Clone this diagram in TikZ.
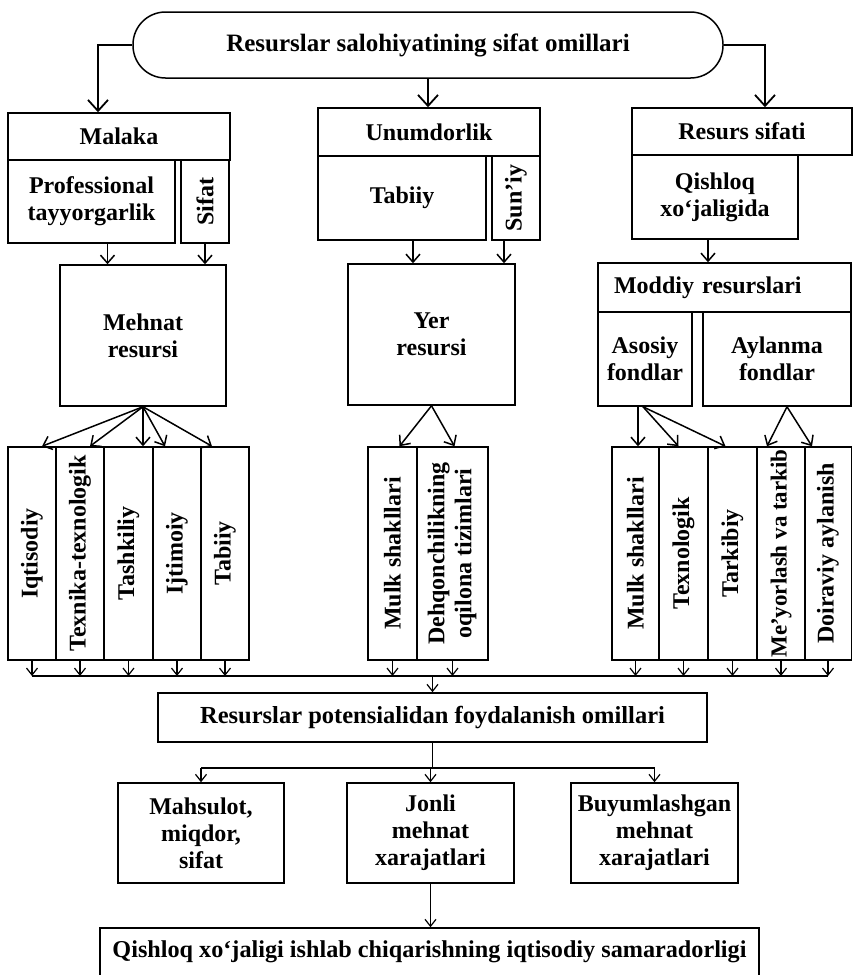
\documentclass[tikz,border=0pt]{standalone}
\usepackage{fontspec}
\setmainfont{Liberation Serif}
\usepackage{graphicx}
\usetikzlibrary{arrows.meta}

\newcommand{\vlabel}[1]{\rotatebox{90}{#1}}

\tikzset{
  every node/.style = {font = \bfseries\fontsize{24}{27}\selectfont},
  box/.style = {draw, line width = 1.5pt, inner sep = 0pt, align = center},
  bigarr/.style = {line width = 1.8pt, -{Straight Barb[length = 11pt, width = 20pt]}},
  midarr/.style = {line width = 1.5pt, -{Straight Barb[length = 8pt, width = 14pt]}},
  smallarr/.style = {line width = 1.2pt, -{Straight Barb[length = 7pt, width = 11pt]}}
}

\begin{document}
\begin{tikzpicture}[x = 1pt, y = -1pt]
\useasboundingbox (0, 0) rectangle (853, 975);

% top
\node[box, rounded corners = 32.5, minimum width = 590, minimum height = 66, font = \bfseries\fontsize{25}{27}\selectfont] (salohiyat) at (428, 45) {Resurslar salohiyatining sifat omillari};

% left column
\node[box, minimum width = 222, minimum height = 47] (malaka) at (119, 136.5) {Malaka};
\node[box, minimum width = 167, minimum height = 83] (prof) at (91.5, 201.5) {Professional\\tayyorgarlik};
\node[box, minimum width = 48, minimum height = 83] (sifat) at (205, 201.5) {\vlabel{Sifat}};
\node[box, minimum width = 166, minimum height = 141] (mehnat) at (143, 335.5) {Mehnat\\resursi};

% middle column
\node[box, minimum width = 222, minimum height = 48] (unum) at (429, 132) {Unumdorlik};
\node[box, minimum width = 168, minimum height = 84] (tabiiy) at (402, 198) {Tabiiy};
\node[box, minimum width = 48, minimum height = 84] (suniy) at (516, 198) {\vlabel{Sun’iy}};
\node[box, minimum width = 167, minimum height = 141] (yer) at (431.5, 334.5) {Yer\\resursi};

% right column
\node[box, minimum width = 220, minimum height = 47] (resurs) at (742, 131.5) {Resurs sifati};
\node[box, minimum width = 166, minimum height = 84] (qishloq) at (715, 197) {Qishloq\\xo‘jaligida};
\node[box, minimum width = 253, minimum height = 49, text width = 221, inner xsep = 16pt, align = left] (moddiy) at (724.5, 287.5) {Moddiy resurslari};
\node[box, minimum width = 94, minimum height = 94] (asosiy) at (645, 359) {Asosiy\\fondlar};
\node[box, minimum width = 148, minimum height = 94] (aylanma) at (777, 359) {Aylanma\\fondlar};

% vertical boxes
\node[box, minimum width = 48, minimum height = 213] (iqt) at (32, 553.5) {\vlabel{Iqtisodiy}};
\node[box, minimum width = 48, minimum height = 213] (texn) at (80, 553.5) {\vlabel{Texnika-texnologik}};
\node[box, minimum width = 49, minimum height = 213] (tash) at (128.5, 553.5) {\vlabel{Tashkiliy}};
\node[box, minimum width = 48, minimum height = 213] (ijt) at (177, 553.5) {\vlabel{Ijtimoiy}};
\node[box, minimum width = 48, minimum height = 213] (tab) at (225, 553.5) {\vlabel{Tabiiy}};
\node[box, minimum width = 49, minimum height = 213] (mulk) at (392.5, 553.5) {\vlabel{Mulk shakllari}};
\node[box, minimum width = 71, minimum height = 213] (dehq) at (452.5, 553.5) {\vlabel{\begin{tabular}{@{}c@{}}Dehqonchilikning\\oqilona tizimlari\end{tabular}}};
\node[box, minimum width = 47, minimum height = 213] (mulkb) at (635.5, 553.5) {\vlabel{Mulk shakllari}};
\node[box, minimum width = 49, minimum height = 213] (texb) at (683.5, 553.5) {\vlabel{Texnologik}};
\node[box, minimum width = 49, minimum height = 213] (tark) at (732.5, 553.5) {\vlabel{Tarkibiy}};
\node[box, minimum width = 48, minimum height = 213, font = \bfseries\fontsize{23}{27}\selectfont] (meyor) at (781, 553.5) {\vlabel{Me’yorlash va tarkib}};
\node[box, minimum width = 47, minimum height = 213] (doir) at (828, 553.5) {\vlabel{Doiraviy aylanish}};

% bottom part
\coordinate (coll) at (0, 676);
\node[box, minimum width = 549, minimum height = 49, font = \bfseries\fontsize{24.5}{27}\selectfont] (res) at (432.5, 717.5) {Resurslar potensialidan foydalanish omillari};
\coordinate (split) at (0, 768);
\node[box, minimum width = 166, minimum height = 100] (mahs) at (201, 833) {Mahsulot,\\miqdor,\\sifat};
\node[box, minimum width = 167, minimum height = 100] (jonli) at (430.5, 833) {Jonli\\mehnat\\xarajatlari};
\node[box, minimum width = 167, minimum height = 100] (buy) at (654.5, 833) {Buyumlashgan\\mehnat\\xarajatlari};
\node[box, minimum width = 659, minimum height = 48, font = \bfseries\fontsize{24.2}{27}\selectfont] (samara) at (429.5, 952) {Qishloq xo‘jaligi ishlab chiqarishning iqtisodiy samaradorligi};

% arrows from the top
\draw[bigarr] (salohiyat.west) -| ([xshift = -21pt]malaka.north);
\draw[bigarr] (salohiyat.south) -- (salohiyat.south |- unum.north);
\draw[bigarr] (salohiyat.east) -| ([xshift = 23pt]resurs.north);

\draw[midarr] ([xshift = 16pt]prof.south) -- ([xshift = 16pt]prof.south |- mehnat.north);
\draw[midarr] (sifat.south) -- (sifat.south |- mehnat.north);
\draw[midarr] ([xshift = 11pt]tabiiy.south) -- ([xshift = 11pt]tabiiy.south |- yer.north);
\draw[midarr] ([xshift = -12pt]suniy.south) -- ([xshift = -12pt]suniy.south |- yer.north);
\draw[midarr] ([xshift = -7pt]qishloq.south) -- ([xshift = -7pt]qishloq.south |- moddiy.north);

% fans
\draw[midarr] (mehnat.south) -- ([xshift = 10pt]iqt.north);
\draw[midarr] (mehnat.south) -- ([xshift = 10pt]texn.north);
\draw[midarr] (mehnat.south) -- (mehnat.south |- tash.north);
\draw[midarr] (mehnat.south) -- ([xshift = -12pt]ijt.north);
\draw[midarr] (mehnat.south) -- ([xshift = -13pt]tab.north);
\draw[midarr] (yer.south) -- ([xshift = 7pt]mulk.north);
\draw[midarr] (yer.south) -- ([xshift = 2pt]dehq.north);
\draw[midarr] ([xshift = -7pt]asosiy.south) -- ([xshift = -7pt]asosiy.south |- mulkb.north);
\draw[midarr] ([xshift = -2pt]asosiy.south) -- ([xshift = -5pt]texb.north);
\draw[midarr] ([xshift = -2pt]asosiy.south) -- ([xshift = -7pt]tark.north);
\draw[midarr] ([xshift = 10pt]aylanma.south) -- ([xshift = -14pt]meyor.north);
\draw[midarr] ([xshift = 10pt]aylanma.south) -- ([xshift = -16pt]doir.north);

% collector line
\draw[smallarr] (iqt.south) -- (iqt.south |- coll);
\draw[smallarr] (texn.south) -- (texn.south |- coll);
\draw[smallarr] (tash.south) -- (tash.south |- coll);
\draw[smallarr] (ijt.south) -- (ijt.south |- coll);
\draw[smallarr] (tab.south) -- (tab.south |- coll);
\draw[smallarr] (mulk.south) -- (mulk.south |- coll);
\draw[smallarr] (dehq.south) -- (dehq.south |- coll);
\draw[smallarr] (mulkb.south) -- (mulkb.south |- coll);
\draw[smallarr] (texb.south) -- (texb.south |- coll);
\draw[smallarr] (tark.south) -- (tark.south |- coll);
\draw[smallarr] (meyor.south) -- (meyor.south |- coll);
\draw[smallarr] (doir.south) -- (doir.south |- coll);
\draw[line width = 1.2pt] (iqt.south |- coll) -- (doir.south |- coll);
\draw[smallarr] (res.north |- coll) -- (res.north);

% lower split
\draw[line width = 1.2pt] (res.south) -- (res.south |- split);
\draw[line width = 1.2pt] (mahs.north |- split) -- (buy.north |- split);
\draw[smallarr] (mahs.north |- split) -- (mahs.north);
\draw[smallarr] (jonli.north |- split) -- (jonli.north);
\draw[smallarr] (buy.north |- split) -- (buy.north);
\draw[smallarr] (jonli.south) -- (jonli.south |- samara.north);
\end{tikzpicture}
\end{document}
